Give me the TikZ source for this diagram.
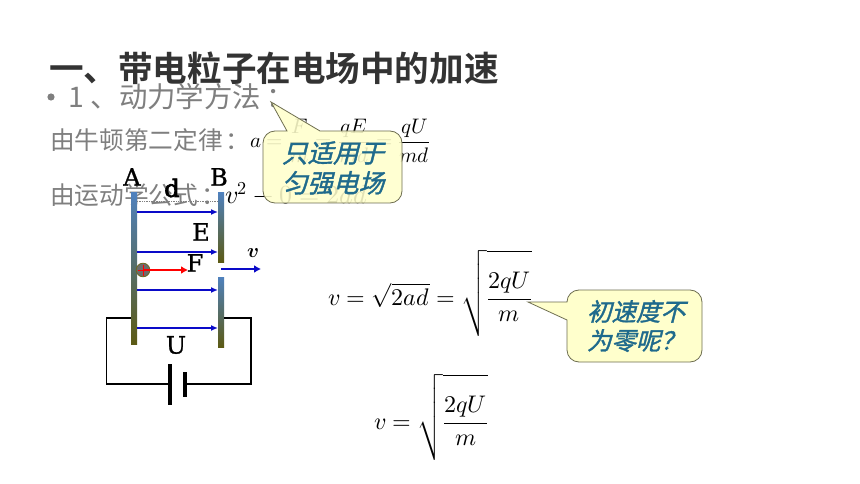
\documentclass[tikz,border=0pt]{standalone}
\usepackage{amsmath}
\usepackage{unicode-math}
\setmathfont{Latin Modern Math}
\setmainfont{Noto Sans CJK SC}
\newfontfamily\cjkbold{Noto Sans CJK SC}[BoldFont={Noto Sans CJK SC Bold}]
\newfontfamily\cjkslant[FakeSlant=0.25,FakeBold=1.5]{Noto Sans CJK SC}
\newfontfamily\letterfont[FakeBold=1]{DejaVu Serif}
\newfontfamily\letterbold[FakeBold=3]{DejaVu Serif}
\usetikzlibrary{arrows.meta}
\definecolor{titlecol}{HTML}{333333}
\definecolor{bodycol}{HTML}{7F7F7F}
\definecolor{calloutfill}{HTML}{FFFFCC}
\definecolor{calloutedge}{HTML}{6E6E50}
\definecolor{callouttext}{HTML}{1F6A8C}
\definecolor{platetop}{HTML}{4F81BD}
\definecolor{platebot}{HTML}{5C5A14}
\definecolor{fieldblue}{HTML}{0A0AC8}
\newcommand{\tallroot}{\sqrt{\rule[-31pt]{0pt}{83pt}\dfrac{2qU}{m}}}
\tikzset{
  txt/.style={inner sep=0pt,outer sep=0pt,anchor=west},
  title/.style={txt,text=titlecol,font=\fontsize{34.6}{38}\cjkbold\bfseries},
  bullet/.style={txt,text=bodycol,font=\fontsize{28.4}{32}\selectfont},
  bodytxt/.style={txt,text=bodycol,font=\fontsize{24.7}{28}\selectfont},
  mathtxt/.style={txt,text=black,font=\fontsize{21}{25}\selectfont},
  bigmath/.style={inner sep=0pt,outer sep=0pt,anchor=base west,text=black,font=\fontsize{24}{28}\selectfont},
  letter/.style={inner sep=0pt,text=black,font=\fontsize{24}{26}\letterfont},
  plate/.style={draw=none,top color=platetop,bottom color=platebot},
  wire/.style={draw=black,line width=1.4pt},
  field/.style={draw=fieldblue,line width=1.4pt,-{Latex[length=7pt,width=6pt]}},
  calloutbox/.style={draw=calloutedge,line width=0.8pt,fill=calloutfill,fill opacity=0.88},
  callouttxt/.style={inner sep=0pt,align=center,text=callouttext,font=\fontsize{25.5}{30}\cjkslant},
}
\begin{document}
\begin{tikzpicture}[x=1pt,y=-1pt]
\useasboundingbox (0,0) rectangle (860,484);
\fill[white] (0,0) rectangle (860,484);
% texts
\node[title] (ttl) at (49,68) {一、带电粒子在电场中的加速};
\fill[bodycol] (51,97) circle (3.6);
\node[bullet] (sub) at (68,97) {1\hspace{7pt}、动力学方法\hspace{5pt}：};
\node[bodytxt] (newton) at (50,140) {由牛顿第二定律\hspace{3pt}：};
\node[mathtxt] (fa) at (250,141) {$\displaystyle a=\frac{F}{m}=\frac{qE}{md}=\frac{qU}{md}$};
\node[bodytxt] (kin) at (50,195) {由运动学公式\hspace{3pt}：};
\node[bigmath,font=\fontsize{26}{30}\selectfont] (fv) at (225,204) {$v^2-0=2ad$};
% plates
\shade[plate] (131,193) rectangle (137,344);
\shade[plate] (218,193) rectangle (224,262);
\shade[plate] (218,277) rectangle (224,347);
\coordinate (a1) at (137,212); \coordinate (b1) at (218,212);
\coordinate (a2) at (137,252); \coordinate (b2) at (218,252);
\coordinate (a3) at (137,290); \coordinate (b3) at (218,290);
\coordinate (a4) at (137,328); \coordinate (b4) at (218,328);
\draw[field] (a1) -- (b1);
\draw[field] (a2) -- (b2);
\draw[field] (a3) -- (b3);
\draw[field] (a4) -- (b4);
\coordinate (da) at (137,201); \coordinate (db) at (218,201);
\draw[gray,densely dotted,line width=0.7pt] (da) -- (db);
% circuit
\coordinate (cl) at (131,318); \coordinate (cr) at (224,318);
\coordinate (bl) at (170,384); \coordinate (br) at (185,384);
\draw[wire] (cl) -- (106.5,318) -- (106.5,384) -- (bl);
\draw[wire] (cr) -- (251,318) -- (251,384) -- (br);
\draw[black,line width=3.6pt] (170,364) -- (170,405);
\draw[black,line width=3.6pt] (185,372) -- (185,397);
% particle
\coordinate (pc) at (143,270);
\coordinate (pf) at (188,270);
\fill[gray!85!black,draw=olive!70!black,line width=0.8pt] (pc) circle (6.8);
\draw[red,line width=0.9pt] (137.5,270) -- (148.5,270) (143,264.5) -- (143,275.5);
\draw[red,line width=2.2pt,-{Latex[length=7pt,width=8pt]}] (pc) -- (pf);
\coordinate (v1) at (221,269); \coordinate (v2) at (261,269);
\draw[fieldblue,line width=2.2pt,-{Latex[length=7pt,width=8pt]}] (v1) -- (v2);
% letters
\node[letter] (lA) at (132,177) {A};
\node[letter] (lB) at (219,177) {B};
\node[letter,font=\fontsize{24}{26}\letterbold] (ld) at (172,188) {d};
\node[letter] (lE) at (201,232) {E};
\node[letter] (lF) at (195,263) {F};
\node[letter] (lU) at (176,345) {U};
\node[inner sep=0pt,text=black,font=\fontsize{20}{22}\selectfont] (lv) at (253,253) {$\symbfit{v}$};
% formulas
\node[bigmath] (f1) at (328,305) {$v=\sqrt{2ad}=\tallroot$};
\node[bigmath] (f2) at (374,429) {$v=\tallroot$};
% callouts
\draw[calloutbox] (275,131) -- (287,131) -- (271,102) -- (320,131) -- (390,131)
  arc[start angle=-90,end angle=0,radius=12] -- (402,191)
  arc[start angle=0,end angle=90,radius=12] -- (275,203)
  arc[start angle=90,end angle=180,radius=12] -- (263,143)
  arc[start angle=180,end angle=270,radius=12] -- cycle;
\node[callouttxt] (c1) at (333,168) {只适用于\\匀强电场};
\draw[calloutbox,fill opacity=1] (579,290) -- (690,290)
  arc[start angle=-90,end angle=0,radius=12] -- (702,350)
  arc[start angle=0,end angle=90,radius=12] -- (579,362)
  arc[start angle=90,end angle=180,radius=12] -- (567,320) -- (528,302) -- (567,302)
  arc[start angle=180,end angle=270,radius=12] -- cycle;
\node[callouttxt,font=\fontsize{24.5}{29}\cjkslant] (c2) at (636,326) {初速度不\\为零呢？};
\end{tikzpicture}
\end{document}
